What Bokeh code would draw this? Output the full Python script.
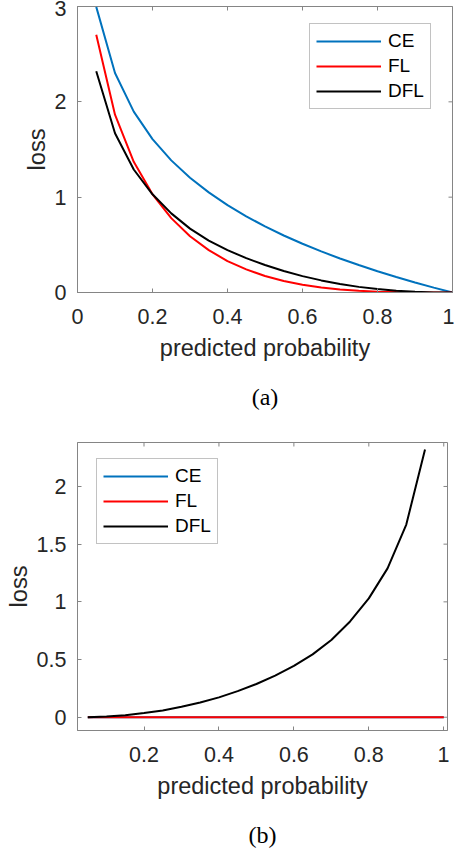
from bokeh.plotting import figure
from bokeh.layouts import column
from bokeh.models import Range1d, FixedTicker, LinearAxis, Legend, LegendItem
from bokeh.embed import file_html
from bokeh.resources import INLINE
import math

# ---------------- data ----------------
series_names = ["CE", "FL", "DFL"]
series_colors = ["#0072BD", "#FF0000", "#000000"]

prob_a = [0.05, 0.10, 0.15, 0.20, 0.25, 0.30, 0.35, 0.40, 0.45, 0.50,
          0.55, 0.60, 0.65, 0.70, 0.75, 0.80, 0.85, 0.90, 0.95, 1.00]
ce_a = [2.996, 2.303, 1.897, 1.609, 1.386, 1.204, 1.050, 0.916, 0.799, 0.693,
        0.598, 0.511, 0.431, 0.357, 0.288, 0.223, 0.163, 0.105, 0.051, 0.0]
fl_a = [2.704, 1.865, 1.371, 1.030, 0.780, 0.590, 0.444, 0.330, 0.242, 0.173,
        0.121, 0.082, 0.053, 0.032, 0.018, 0.009, 0.004, 0.001, 0.0001, 0.0]
dfl_a = [2.32, 1.67, 1.29, 1.03, 0.83, 0.67, 0.545, 0.445, 0.36, 0.288,
         0.226, 0.172, 0.127, 0.09, 0.059, 0.036, 0.018, 0.007, 0.001, 0.0]

prob_b = [0.05, 0.10, 0.15, 0.20, 0.25, 0.30, 0.35, 0.40, 0.45, 0.50,
          0.55, 0.60, 0.65, 0.70, 0.75, 0.80, 0.85, 0.90, 0.95, 1.00]
ce_b = [0.0, 0.0, 0.0, 0.0, 0.0, 0.0, 0.0, 0.0, 0.0, 0.0,
        0.0, 0.0, 0.0, 0.0, 0.0, 0.0, 0.0, 0.0, 0.0, 0.0]
fl_b = [0.0, 0.0, 0.0, 0.0, 0.0, 0.0, 0.0, 0.0, 0.0, 0.0,
        0.0, 0.0, 0.0, 0.0, 0.0, 0.0, 0.0, 0.0, 0.0, 0.0]
prob_b_dfl = [0.05, 0.10, 0.15, 0.20, 0.25, 0.30, 0.35, 0.40, 0.45, 0.50,
              0.55, 0.60, 0.65, 0.70, 0.75, 0.80, 0.85, 0.90, 0.95]
dfl_b = [0.0, 0.007, 0.018, 0.036, 0.059, 0.09, 0.127, 0.172, 0.226, 0.288,
         0.36, 0.445, 0.545, 0.67, 0.83, 1.03, 1.29, 1.67, 2.32]

xticks_a = [0, 0.2, 0.4, 0.6, 0.8, 1]
xlabels_a = ["0", "0.2", "0.4", "0.6", "0.8", "1"]
yticks_a = [0, 1, 2, 3]
ylabels_a = ["0", "1", "2", "3"]
xticks_b = [0.2, 0.4, 0.6, 0.8, 1]
xlabels_b = ["0.2", "0.4", "0.6", "0.8", "1"]
yticks_b = [0, 0.5, 1, 1.5, 2]
ylabels_b = ["0", "0.5", "1", "1.5", "2"]

x_title = "predicted probability"
y_title = "loss"
panel_tags = ["(a)", "(b)"]

# ---------------- style ----------------
FRAME = "#858585"
TEXT = "#262626"
SANS = "Liberation Sans"
SERIF = "Liberation Serif"


def style_axis(ax, ticks, labels):
    ax.ticker = FixedTicker(ticks=ticks)
    ax.major_label_overrides = {float(t): l for t, l in zip(ticks, labels)}
    ax.major_tick_in = 4
    ax.major_tick_out = 0
    ax.minor_tick_line_color = None
    ax.axis_line_color = FRAME
    ax.major_tick_line_color = FRAME
    ax.major_label_text_font = SANS
    ax.major_label_text_color = TEXT
    ax.major_label_text_font_size = "21.5px"
    ax.axis_label_text_font = SANS
    ax.axis_label_text_font_size = "23.5px"
    ax.axis_label_text_font_style = "normal"
    ax.axis_label_text_color = TEXT


def make_panel(width, height, borders, xr, yr, xt, xl, yt, yl, lines,
               legend_pos, tag):
    left, right, top, bottom = borders
    p = figure(width=width, height=height, x_range=Range1d(*xr), y_range=Range1d(*yr),
               output_backend="svg", toolbar_location=None,
               min_border_left=left, min_border_right=right,
               min_border_top=top, min_border_bottom=bottom)
    p.xgrid.visible = False
    p.ygrid.visible = False
    p.outline_line_color = FRAME
    p.outline_line_width = 1
    p.background_fill_color = "white"
    p.border_fill_color = "white"

    style_axis(p.xaxis[0], xt, xl)
    style_axis(p.yaxis[0], yt, yl)
    p.xaxis[0].axis_label = x_title
    p.yaxis[0].axis_label = y_title
    p.xaxis[0].major_label_standoff = 16
    p.xaxis[0].axis_label_standoff = 8
    p.yaxis[0].major_label_standoff = 11
    p.yaxis[0].axis_label_standoff = 2

    # panel tag "(a)"/"(b)" as the label of a tick-less axis below the x axis
    tag_ax = LinearAxis(ticker=FixedTicker(ticks=[]), axis_label=tag)
    tag_ax.axis_line_color = None
    tag_ax.major_tick_line_color = None
    tag_ax.minor_tick_line_color = None
    tag_ax.major_tick_in = 0
    tag_ax.major_tick_out = 0
    tag_ax.major_label_standoff = 0
    tag_ax.axis_label_standoff = 20
    tag_ax.axis_label_text_font = SERIF
    tag_ax.axis_label_text_font_size = "24px"
    tag_ax.axis_label_text_font_style = "normal"
    tag_ax.axis_label_text_color = "#000000"
    p.add_layout(tag_ax, "below")

    # mirrored inward ticks on top and right edges of the box
    p.scatter(xt, [yr[1]] * len(xt), marker="dash", angle=math.pi / 2, size=8,
              line_color=FRAME, line_width=1)
    p.scatter([xr[1]] * len(yt), yt, marker="dash", size=8,
              line_color=FRAME, line_width=1)

    items = []
    for (xs, ys), name, color in zip(lines, series_names, series_colors):
        r = p.line(xs, ys, line_color=color, line_width=2)
        items.append(LegendItem(label=name, renderers=[r]))

    legend = Legend(items=items, location=legend_pos,
                    label_text_font=SANS, label_text_font_size="19px",
                    label_text_color="#000000", glyph_width=65, glyph_height=22,
                    label_height=22, label_standoff=7, padding=6, spacing=3,
                    border_line_color=FRAME, border_line_width=1,
                    background_fill_color="white", background_fill_alpha=1.0)
    p.add_layout(legend)
    return p


p1 = make_panel(454, 412, (77, 2, 6, 117), (0, 1), (0, 3),
                xticks_a, xlabels_a, yticks_a, ylabels_a,
                [(prob_a, ce_a), (prob_a, fl_a), (prob_a, dfl_a)],
                (232, 183), panel_tags[0])

p2 = make_panel(449, 438, (77, 2, 30, 120), (0.0225, 1.01), (-0.115, 2.381),
                xticks_b, xlabels_b, yticks_b, ylabels_b,
                [(prob_b, ce_b), (prob_b, fl_b), (prob_b_dfl, dfl_b)],
                (19, 186), panel_tags[1])

layout = column(p1, p2, spacing=0)

open("out.html", "w").write(file_html(layout, INLINE))
